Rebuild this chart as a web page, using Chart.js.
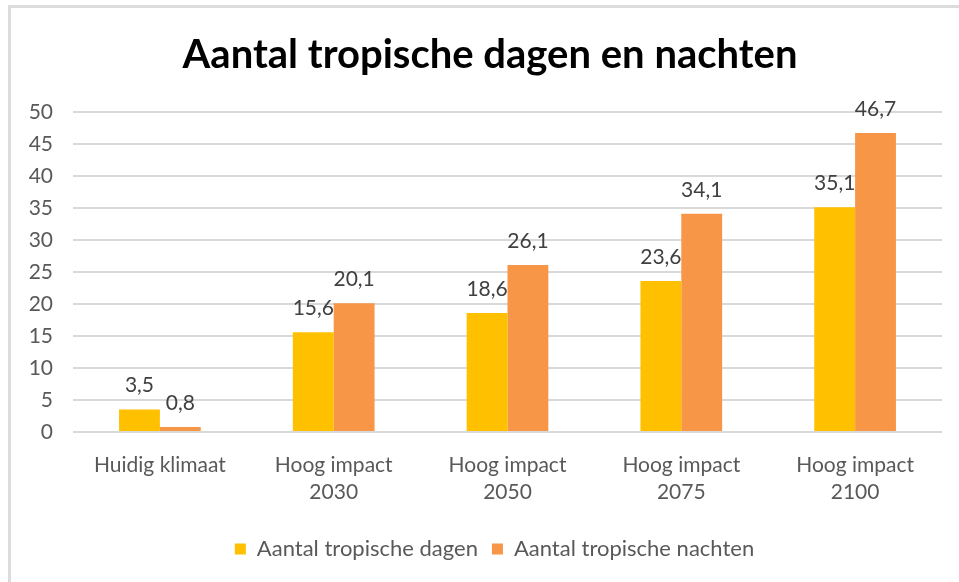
<!DOCTYPE html>
<html>
<head>
<meta charset="utf-8">
<script src="https://cdn.jsdelivr.net/npm/chart.js@4/dist/chart.umd.min.js"></script>
<style>
  html, body { margin: 0; padding: 0; background: #fff; }
  #wrap { position: relative; width: 959px; height: 582px; }
  #frame { position: absolute; left: 8px; top: 5px; right: 0; bottom: 0;
           border-top: 3px solid #dcdcdc; border-left: 3px solid #dcdcdc; }
  canvas { position: absolute; left: 0; top: 0; }
</style>
</head>
<body>
<div id="wrap">
  <div id="frame"></div>
  <canvas id="myChart" width="959" height="582"></canvas>
</div>
<script>
// Gegevens
const categories = [['Huidig klimaat'], ['Hoog impact', '2030'], ['Hoog impact', '2050'], ['Hoog impact', '2075'], ['Hoog impact', '2100']];
const dagen = [3.5, 15.6, 18.6, 23.6, 35.1];
const nachten = [0.8, 20.1, 26.1, 34.1, 46.7];
const yTicks = [0, 5, 10, 15, 20, 25, 30, 35, 40, 45, 50];

const fontFam = 'Lato, "Liberation Sans", sans-serif';

function fmt(v) {
    return v.toFixed(1).replace('.', ',');
}

// labels boven de staven
const valueLabels = {
    id: 'valueLabels',
    afterDatasetsDraw(chart) {
        const ctx = chart.ctx;
        ctx.save();
        ctx.font = '21px ' + fontFam;
        ctx.fillStyle = '#404040';
        ctx.textAlign = 'center';
        ctx.textBaseline = 'middle';
        chart.data.datasets.forEach((ds, i) => {
            chart.getDatasetMeta(i).data.forEach((bar, j) => {
                ctx.fillText(fmt(ds.data[j]), bar.x, bar.y - 24);
            });
        });
        ctx.restore();
    }
};

// titel en legenda iets naar rechts, zoals in Excel
const shiftBoxes = {
    id: 'shiftBoxes',
    afterLayout(chart) {
        chart.titleBlock.left += 38;
        chart.legend.left += 47;
    }
};

const ctx = document.getElementById('myChart').getContext('2d');
const myChart = new Chart(ctx, {
    type: 'bar',
    data: {
        labels: categories,
        datasets: [{
            label: 'Aantal tropische dagen',
            data: dagen,
            backgroundColor: '#FFC000'
        }, {
            label: 'Aantal tropische nachten',
            data: nachten,
            backgroundColor: '#F79646'
        }]
    },
    options: {
        responsive: false,
        animation: false,
        layout: { padding: { left: 0, right: 17, top: 0, bottom: 12 } },
        datasets: {
            bar: { categoryPercentage: 0.47, barPercentage: 1.0 }
        },
        plugins: {
            title: {
                display: true,
                text: 'Aantal tropische dagen en nachten',
                color: '#000',
                font: { family: fontFam, size: 40, weight: 'bold' },
                padding: { top: 31, bottom: 33 }
            },
            legend: {
                position: 'bottom',
                labels: {
                    color: '#595959',
                    font: { family: fontFam, size: 22 },
                    boxWidth: 11,
                    boxHeight: 11,
                    padding: 14
                }
            },
            tooltip: { enabled: false }
        },
        scales: {
            x: {
                grid: { display: false },
                border: { display: false },
                ticks: {
                    color: '#595959',
                    font: { family: fontFam, size: 21, lineHeight: 1.28 },
                    padding: 12,
                    maxRotation: 0
                },
                afterFit(scale) { scale.height = 92; }
            },
            y: {
                min: 0,
                max: 50,
                afterBuildTicks(scale) { scale.ticks = yTicks.map(v => ({ value: v })); },
                grid: { color: '#d9d9d9', lineWidth: 2, drawTicks: false },
                border: { display: false },
                ticks: {
                    color: '#595959',
                    font: { family: fontFam, size: 21 },
                    padding: 20
                },
                afterFit(scale) { scale.width = 73; }
            }
        }
    },
    plugins: [valueLabels, shiftBoxes]
});
</script>
</body>
</html>
